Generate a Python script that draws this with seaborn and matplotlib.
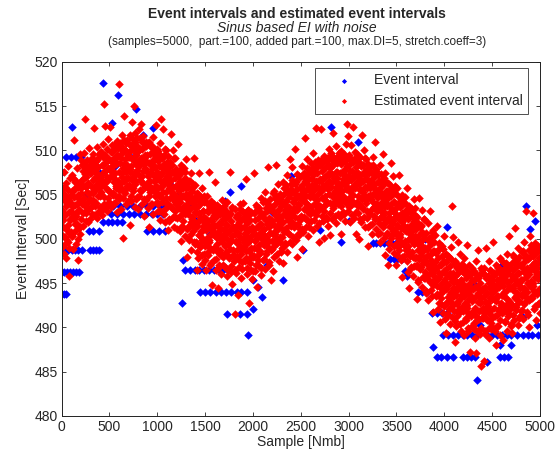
import numpy as np
import pandas as pd
import matplotlib
matplotlib.use('Agg')
import matplotlib.pyplot as plt
import seaborn as sns

# DATA: estimated event interval, read per 100-sample stretch (0..5000).
# two sets of 20 readings for each stretch, interleaved along the sample axis
est_rows_a = [
    [503.2, 499.1, 505.8, 501.4, 507.6, 498.3, 502.7, 504.9, 500.2, 506.3, 497.8, 503.9, 501.0, 508.2, 499.7, 504.4, 495.8, 502.1, 506.9, 500.8],
    [504.1, 500.3, 507.2, 502.6, 498.9, 505.5, 511.2, 501.7, 503.8, 506.4, 499.4, 502.9, 508.0, 504.7, 497.6, 505.9, 501.2, 503.3, 509.6, 500.6],
    [505.2, 502.3, 508.4, 503.9, 506.8, 501.5, 509.7, 504.6, 507.3, 513.6, 502.9, 505.9, 503.1, 508.9, 506.1, 501.9, 504.2, 510.3, 507.7, 503.5],
    [504.5, 508.7, 506.0, 502.8, 507.9, 505.2, 509.6, 504.1, 512.5, 506.9, 503.7, 508.2, 505.6, 510.4, 502.4, 507.5, 504.8, 509.1, 503.0, 506.3],
    [507.0, 503.6, 509.8, 505.3, 508.4, 502.7, 510.7, 506.2, 515.2, 504.0, 507.7, 512.8, 505.7, 509.2, 503.2, 506.6, 508.9, 504.6, 511.3, 506.9],
    [507.9, 512.6, 505.3, 509.8, 503.6, 507.1, 510.6, 505.0, 508.3, 506.4, 507.5, 504.1, 510.2, 505.8, 508.7, 503.0, 511.1, 506.6, 509.4, 504.8],
    [517.5, 504.5, 510.8, 506.2, 509.1, 503.4, 511.7, 507.0, 500.1, 505.4, 508.5, 513.9, 506.7, 510.1, 504.0, 507.6, 511.2, 505.8, 509.5, 506.9],
    [506.1, 509.3, 501.6, 511.8, 507.9, 504.3, 510.6, 506.9, 513.2, 508.9, 505.8, 515.0, 507.4, 512.0, 503.6, 509.7, 506.5, 511.4, 504.7, 508.2],
    [503.4, 512.4, 507.2, 510.2, 505.5, 508.7, 513.0, 506.6, 510.9, 504.0, 507.7, 511.6, 502.6, 509.1, 505.9, 508.0, 504.4, 511.0, 506.3, 509.5],
    [503.5, 507.1, 510.9, 501.4, 508.5, 505.3, 507.4, 503.9, 510.5, 505.7, 508.8, 502.8, 511.5, 506.6, 509.6, 504.9, 508.1, 512.9, 506.0, 510.2],
    [506.8, 503.2, 509.9, 505.0, 508.2, 502.1, 510.8, 505.9, 513.6, 504.2, 507.5, 512.4, 505.3, 509.5, 502.8, 506.4, 510.2, 501.9, 507.9, 504.6],
    [503.9, 507.1, 501.0, 509.4, 505.7, 502.0, 508.7, 504.6, 511.9, 506.7, 503.5, 508.4, 505.1, 510.0, 501.4, 507.4, 504.2, 509.1, 502.5, 506.0],
    [504.0, 507.3, 502.4, 505.6, 510.7, 503.5, 507.6, 500.9, 504.6, 508.3, 499.8, 506.0, 502.8, 504.9, 501.4, 508.0, 503.1, 506.3, 500.3, 509.0],
    [503.1, 506.8, 498.0, 504.5, 501.3, 503.4, 499.9, 506.5, 501.6, 504.8, 498.8, 507.4, 502.5, 505.8, 500.9, 504.1, 509.2, 502.0, 506.1, 499.4],
    [499.7, 502.9, 496.5, 505.2, 501.5, 497.8, 504.5, 500.4, 507.5, 502.5, 499.3, 504.2, 500.9, 505.8, 497.2, 503.2, 500.0, 504.9, 498.3, 501.8],
    [499.2, 502.3, 496.5, 504.9, 500.1, 503.3, 498.5, 501.6, 507.6, 499.6, 503.6, 497.0, 500.6, 504.3, 494.8, 502.0, 498.9, 500.9, 497.6, 504.0],
    [506.4, 499.1, 503.1, 496.5, 500.1, 503.8, 494.5, 501.5, 498.4, 500.4, 497.0, 503.5, 498.7, 501.8, 496.0, 504.4, 499.6, 502.8, 498.0, 501.1],
    [500.2, 496.8, 503.3, 498.5, 501.6, 495.8, 504.2, 499.4, 502.6, 497.8, 500.9, 507.6, 498.9, 502.9, 496.3, 499.9, 503.6, 494.9, 501.3, 498.2],
    [497.9, 501.1, 491.5, 503.4, 499.7, 496.1, 502.7, 498.7, 493.7, 500.7, 497.6, 502.4, 499.2, 504.0, 495.6, 501.4, 498.3, 503.1, 496.6, 500.0],
    [504.1, 499.1, 502.3, 497.5, 500.6, 506.8, 498.6, 502.6, 496.0, 499.6, 503.3, 492.7, 501.0, 497.8, 499.9, 496.5, 503.0, 498.2, 501.3, 495.5],
    [497.9, 501.0, 507.4, 499.0, 503.0, 496.4, 500.0, 503.8, 494.6, 501.4, 498.2, 500.3, 496.9, 503.5, 498.6, 501.7, 495.9, 504.6, 499.5, 502.8],
    [501.0, 497.6, 504.2, 499.3, 502.4, 496.6, 505.3, 500.2, 503.5, 498.6, 501.7, 508.1, 499.7, 503.7, 497.1, 500.7, 504.5, 495.3, 502.1, 498.9],
    [499.8, 503.0, 496.4, 505.4, 501.6, 498.0, 504.6, 500.6, 508.3, 502.6, 499.5, 504.4, 501.1, 506.2, 497.5, 503.3, 500.2, 505.1, 498.5, 501.9],
    [499.0, 502.6, 506.4, 497.3, 504.0, 500.8, 502.9, 499.5, 506.1, 501.2, 504.3, 498.5, 507.2, 502.1, 505.4, 500.5, 503.6, 509.0, 501.6, 505.6],
    [505.2, 499.4, 508.1, 503.0, 506.3, 501.4, 504.5, 510.2, 502.5, 506.5, 499.9, 503.5, 507.3, 497.9, 504.9, 501.7, 503.8, 500.4, 507.0, 502.1],
    [502.6, 505.8, 498.9, 508.2, 504.4, 500.8, 507.4, 503.4, 511.4, 505.4, 502.3, 507.2, 503.9, 509.0, 500.3, 506.1, 503.0, 507.9, 501.3, 504.7],
    [505.4, 502.0, 508.6, 503.7, 506.8, 501.0, 509.7, 504.6, 507.9, 503.0, 506.1, 512.5, 504.1, 508.1, 501.5, 505.1, 508.9, 499.6, 506.5, 503.3],
    [508.4, 503.5, 506.6, 512.4, 504.6, 508.6, 502.0, 505.6, 509.4, 500.1, 507.0, 503.8, 505.9, 502.5, 509.1, 504.2, 507.3, 501.5, 510.2, 505.1],
    [504.1, 507.3, 500.4, 509.7, 505.9, 502.3, 508.9, 504.9, 512.0, 506.9, 503.8, 508.7, 505.4, 510.5, 501.8, 507.6, 504.5, 509.4, 502.8, 506.2],
    [505.1, 509.1, 502.5, 506.1, 509.9, 500.6, 507.5, 504.3, 506.4, 503.0, 509.6, 504.7, 507.8, 502.0, 510.7, 505.6, 513.0, 504.0, 507.1, 511.6],
    [509.5, 504.6, 507.7, 501.9, 510.6, 505.5, 508.8, 503.9, 507.0, 512.6, 505.0, 509.0, 502.4, 506.0, 509.8, 500.5, 507.4, 504.2, 506.3, 502.9],
    [503.7, 506.9, 500.0, 509.3, 505.5, 501.9, 508.5, 504.5, 511.8, 506.5, 503.4, 508.3, 505.0, 510.1, 501.4, 507.2, 504.1, 509.0, 502.4, 505.8],
    [508.5, 499.2, 506.1, 502.9, 505.0, 501.6, 508.2, 503.3, 506.4, 500.6, 509.3, 504.2, 507.5, 502.6, 505.7, 511.0, 503.7, 507.7, 501.1, 504.7],
    [504.0, 500.6, 507.2, 502.3, 505.4, 499.6, 508.3, 503.2, 506.5, 501.6, 504.7, 509.6, 502.7, 506.7, 500.1, 503.7, 507.5, 498.2, 505.1, 501.9],
    [500.7, 503.9, 497.0, 506.3, 502.5, 498.9, 505.5, 501.5, 508.6, 503.5, 500.4, 505.3, 502.0, 507.1, 498.4, 504.2, 501.1, 506.0, 499.4, 502.8],
    [497.1, 505.8, 500.7, 504.0, 499.1, 502.2, 507.2, 500.2, 504.2, 497.6, 501.2, 505.0, 495.7, 502.6, 499.4, 501.5, 498.1, 504.7, 499.8, 502.9],
    [500.9, 505.8, 498.9, 502.9, 496.3, 499.9, 503.7, 494.4, 501.3, 498.1, 500.2, 496.8, 503.4, 498.5, 501.6, 495.8, 504.5, 499.4, 502.7, 497.8],
    [496.9, 500.1, 493.2, 502.5, 498.7, 495.1, 501.7, 497.7, 504.6, 499.7, 496.6, 501.5, 498.2, 503.3, 494.6, 500.4, 497.3, 502.2, 495.6, 499.0],
    [497.5, 494.1, 500.7, 495.8, 498.9, 493.1, 501.8, 496.7, 500.0, 495.1, 498.2, 503.1, 496.2, 500.2, 493.6, 497.2, 501.0, 491.7, 498.6, 495.4],
    [495.2, 498.5, 493.6, 496.7, 501.5, 494.7, 498.7, 492.1, 495.7, 499.5, 490.6, 497.1, 493.9, 496.0, 492.6, 499.2, 494.3, 497.4, 491.6, 500.3],
    [497.5, 490.9, 494.5, 498.3, 489.4, 495.9, 492.7, 494.8, 491.4, 498.0, 493.1, 496.2, 490.4, 499.1, 494.0, 503.7, 492.4, 495.5, 500.2, 493.5],
    [491.9, 495.1, 488.4, 497.5, 493.7, 490.1, 496.7, 492.7, 499.6, 494.7, 491.6, 496.5, 493.2, 498.3, 489.6, 495.4, 492.3, 497.2, 490.6, 494.0],
    [494.9, 489.1, 497.8, 492.7, 496.0, 491.1, 494.2, 499.3, 492.2, 496.2, 489.6, 493.2, 497.0, 487.2, 494.6, 491.4, 493.5, 490.1, 496.7, 491.8],
    [493.2, 489.8, 496.4, 491.5, 494.6, 488.8, 497.5, 487.1, 495.7, 490.8, 493.9, 498.8, 491.9, 495.9, 489.3, 492.9, 496.7, 485.6, 494.3, 491.1],
    [491.1, 494.3, 486.2, 496.7, 492.9, 489.3, 495.9, 491.9, 499.0, 493.9, 490.8, 495.7, 492.4, 497.5, 488.8, 494.6, 491.5, 496.4, 489.8, 493.2],
    [491.1, 494.2, 499.7, 492.2, 496.2, 489.6, 493.2, 497.0, 488.0, 494.6, 491.4, 493.5, 490.1, 496.7, 491.8, 494.9, 489.1, 497.8, 492.7, 496.0],
    [493.7, 497.5, 488.6, 495.1, 491.9, 494.0, 490.6, 497.2, 492.3, 495.4, 489.6, 498.3, 493.2, 496.5, 491.6, 494.7, 500.3, 492.7, 496.7, 490.1],
    [492.6, 495.8, 489.4, 498.2, 494.4, 490.8, 497.4, 493.4, 501.2, 495.4, 492.3, 497.2, 493.9, 499.0, 490.3, 496.1, 493.0, 497.9, 491.3, 494.7],
    [495.3, 491.9, 498.5, 493.6, 496.7, 490.9, 499.6, 494.5, 497.8, 492.9, 496.0, 503.1, 494.0, 498.0, 491.4, 495.0, 498.8, 490.0, 496.4, 493.2],
    [500.3, 495.2, 498.5, 493.6, 496.7, 502.9, 494.7, 498.7, 492.1, 495.7, 499.5, 490.8, 497.1, 493.9, 496.0, 492.6, 499.2, 494.3, 497.4, 491.6],
]

est_rows_b = [
    [503.3, 500.4, 505.2, 502.1, 504.4, 499.3, 502.7, 505.9, 501.2, 503.7, 499.9, 504.7, 501.6, 505.5, 500.7, 503.0, 499.0, 504.0, 502.3, 505.0],
    [503.1, 505.4, 500.3, 503.7, 506.9, 502.2, 504.7, 500.9, 505.7, 502.6, 506.5, 501.7, 504.0, 500.0, 505.0, 503.3, 506.0, 504.3, 501.4, 506.2],
    [505.7, 508.9, 504.2, 506.7, 502.9, 507.7, 504.6, 508.5, 503.7, 506.0, 502.0, 507.0, 505.3, 508.0, 506.3, 503.4, 508.2, 505.1, 507.4, 502.3],
    [507.4, 503.6, 508.4, 505.3, 509.2, 504.4, 506.7, 502.7, 507.7, 506.0, 508.7, 507.0, 504.1, 508.9, 505.8, 508.1, 503.0, 506.4, 509.6, 504.9],
    [505.9, 509.8, 505.0, 507.3, 503.3, 508.3, 506.6, 509.3, 507.6, 504.7, 509.5, 506.4, 508.7, 503.6, 507.0, 510.2, 505.5, 508.0, 504.2, 509.0],
    [507.8, 503.8, 508.8, 507.1, 509.8, 508.1, 505.2, 510.0, 506.9, 509.2, 504.1, 507.5, 510.7, 506.0, 508.5, 504.7, 509.5, 506.4, 510.3, 505.5],
    [507.6, 510.3, 508.6, 505.7, 510.5, 507.4, 509.7, 504.6, 508.0, 511.2, 506.5, 509.0, 505.2, 510.0, 506.9, 510.8, 506.0, 508.3, 504.3, 509.3],
    [505.9, 510.7, 507.6, 509.9, 504.8, 508.2, 511.4, 506.7, 509.2, 505.4, 510.2, 507.1, 511.0, 506.2, 508.5, 504.5, 509.5, 507.8, 510.5, 508.8],
    [509.9, 504.8, 508.2, 511.4, 506.7, 509.2, 505.4, 510.2, 507.1, 511.0, 506.2, 508.5, 504.5, 509.5, 507.8, 510.5, 508.8, 505.9, 510.7, 507.6],
    [510.8, 506.1, 508.6, 504.8, 509.6, 506.5, 510.4, 505.6, 507.9, 503.9, 508.9, 507.2, 509.9, 508.2, 505.3, 510.1, 507.0, 509.3, 504.2, 507.6],
    [504.0, 508.8, 505.7, 509.6, 504.8, 507.1, 503.1, 508.1, 506.4, 509.1, 507.4, 504.5, 509.3, 506.2, 508.5, 503.4, 506.8, 510.0, 505.3, 507.8],
    [508.7, 503.9, 506.2, 502.2, 507.2, 505.5, 508.2, 506.5, 503.6, 508.4, 505.3, 507.6, 502.5, 505.9, 509.1, 504.4, 506.9, 503.1, 507.9, 504.8],
    [501.1, 506.1, 504.4, 507.1, 505.4, 502.5, 507.3, 504.2, 506.5, 501.4, 504.8, 508.0, 503.3, 505.8, 502.0, 506.8, 503.7, 507.6, 502.8, 505.1],
    [505.7, 504.0, 501.1, 505.9, 502.8, 505.1, 500.0, 503.4, 506.6, 501.9, 504.4, 500.6, 505.4, 502.3, 506.2, 501.4, 503.7, 499.7, 504.7, 503.0],
    [504.4, 501.3, 503.6, 498.5, 501.9, 505.1, 500.4, 502.9, 499.1, 503.9, 500.8, 504.7, 499.9, 502.2, 498.2, 503.2, 501.5, 504.2, 502.5, 499.6],
    [497.6, 501.0, 504.2, 499.5, 502.0, 498.2, 503.0, 499.9, 503.8, 499.0, 501.3, 497.3, 502.3, 500.6, 503.3, 501.6, 498.7, 503.5, 500.4, 502.7],
    [499.0, 501.5, 497.7, 502.5, 499.4, 503.3, 498.5, 500.8, 496.8, 501.8, 500.1, 502.8, 501.1, 498.2, 503.0, 499.9, 502.2, 497.1, 500.5, 503.7],
    [502.3, 499.2, 503.1, 498.3, 500.6, 496.6, 501.6, 499.9, 502.6, 500.9, 498.0, 502.8, 499.7, 502.0, 496.9, 500.3, 503.5, 498.8, 501.3, 497.5],
    [498.2, 500.5, 496.5, 501.5, 499.8, 502.5, 500.8, 497.9, 502.7, 499.6, 501.9, 496.8, 500.2, 503.4, 498.7, 501.2, 497.4, 502.2, 499.1, 503.0],
    [501.4, 499.7, 502.4, 500.7, 497.8, 502.6, 499.5, 501.8, 496.7, 500.1, 503.3, 498.6, 501.1, 497.3, 502.1, 499.0, 502.9, 498.1, 500.4, 496.4],
    [501.0, 498.1, 502.9, 499.8, 502.1, 497.0, 500.4, 503.6, 498.9, 501.4, 497.6, 502.4, 499.3, 503.2, 498.4, 500.7, 496.7, 501.7, 500.0, 502.7],
    [500.5, 502.8, 497.7, 501.1, 504.3, 499.6, 502.1, 498.3, 503.1, 500.0, 503.9, 499.1, 501.4, 497.4, 502.4, 500.7, 503.4, 501.7, 498.8, 503.6],
    [502.0, 505.2, 500.5, 503.0, 499.2, 504.0, 500.9, 504.8, 500.0, 502.3, 498.3, 503.3, 501.6, 504.3, 502.6, 499.7, 504.5, 501.4, 503.7, 498.6],
    [504.0, 500.2, 505.0, 501.9, 505.8, 501.0, 503.3, 499.3, 504.3, 502.6, 505.3, 503.6, 500.7, 505.5, 502.4, 504.7, 499.6, 503.0, 506.2, 501.5],
    [502.8, 506.7, 501.9, 504.2, 500.2, 505.2, 503.5, 506.2, 504.5, 501.6, 506.4, 503.3, 505.6, 500.5, 503.9, 507.1, 502.4, 504.9, 501.1, 505.9],
    [505.1, 501.1, 506.1, 504.4, 507.1, 505.4, 502.5, 507.3, 504.2, 506.5, 501.4, 504.8, 508.0, 503.3, 505.8, 502.0, 506.8, 503.7, 507.6, 502.8],
    [505.1, 507.8, 506.1, 503.2, 508.0, 504.9, 507.2, 502.1, 505.5, 508.7, 504.0, 506.5, 502.7, 507.5, 504.4, 508.3, 503.5, 505.8, 501.8, 506.8],
    [503.7, 508.5, 505.4, 507.7, 502.6, 506.0, 509.2, 504.5, 507.0, 503.2, 508.0, 504.9, 508.8, 504.0, 506.3, 502.3, 507.3, 505.6, 508.3, 506.6],
    [508.0, 502.9, 506.3, 509.5, 504.8, 507.3, 503.5, 508.3, 505.2, 509.1, 504.3, 506.6, 502.6, 507.6, 505.9, 508.6, 506.9, 504.0, 508.8, 505.7],
    [509.7, 505.0, 507.5, 503.7, 508.5, 505.4, 509.3, 504.5, 506.8, 502.8, 507.8, 506.1, 508.8, 507.1, 504.2, 509.0, 505.9, 508.2, 503.1, 506.5],
    [503.6, 508.4, 505.3, 509.2, 504.4, 506.7, 502.7, 507.7, 506.0, 508.7, 507.0, 504.1, 508.9, 505.8, 508.1, 503.0, 506.4, 509.6, 504.9, 507.4],
    [508.7, 503.9, 506.2, 502.2, 507.2, 505.5, 508.2, 506.5, 503.6, 508.4, 505.3, 507.6, 502.5, 505.9, 509.1, 504.4, 506.9, 503.1, 507.9, 504.8],
    [501.4, 506.4, 504.7, 507.4, 505.7, 502.8, 507.6, 504.5, 506.8, 501.7, 505.1, 508.3, 503.6, 506.1, 502.3, 507.1, 504.0, 507.9, 503.1, 505.4],
    [506.4, 504.7, 501.8, 506.6, 503.5, 505.8, 500.7, 504.1, 507.3, 502.6, 505.1, 501.3, 506.1, 503.0, 506.9, 502.1, 504.4, 500.4, 505.4, 503.7],
    [505.4, 502.3, 504.6, 499.5, 502.9, 506.1, 501.4, 503.9, 500.1, 504.9, 501.8, 505.7, 500.9, 503.2, 499.2, 504.2, 502.5, 505.2, 503.5, 500.6],
    [498.2, 501.6, 504.8, 500.1, 502.6, 498.8, 503.6, 500.5, 504.4, 499.6, 501.9, 497.9, 502.9, 501.2, 503.9, 502.2, 499.3, 504.1, 501.0, 503.3],
    [498.8, 501.3, 497.5, 502.3, 499.2, 503.1, 498.3, 500.6, 496.6, 501.6, 499.9, 502.6, 500.9, 498.0, 502.8, 499.7, 502.0, 496.9, 500.3, 503.5],
    [501.1, 498.0, 501.9, 497.1, 499.4, 495.4, 500.4, 498.7, 501.4, 499.7, 496.8, 501.6, 498.5, 500.8, 495.7, 499.1, 502.3, 497.6, 500.1, 496.3],
    [495.6, 497.9, 493.9, 498.9, 497.2, 499.9, 498.2, 495.3, 500.1, 497.0, 499.3, 494.2, 497.6, 500.8, 496.1, 498.6, 494.8, 499.6, 496.5, 500.4],
    [497.4, 495.7, 498.4, 496.7, 493.8, 498.6, 495.5, 497.8, 492.7, 496.1, 499.3, 494.6, 497.1, 493.3, 498.1, 495.0, 498.9, 494.1, 496.4, 492.4],
    [495.5, 492.6, 497.4, 494.3, 496.6, 491.5, 494.9, 498.1, 493.4, 495.9, 492.1, 496.9, 493.8, 497.7, 492.9, 495.2, 491.2, 496.2, 494.5, 497.2],
    [493.5, 495.8, 490.7, 494.1, 497.3, 492.6, 495.1, 491.3, 496.1, 493.0, 496.9, 492.1, 494.4, 490.4, 495.4, 493.7, 496.4, 494.7, 491.8, 496.6],
    [493.6, 496.8, 492.1, 494.6, 490.8, 495.6, 492.5, 496.4, 491.6, 493.9, 489.9, 494.9, 493.2, 495.9, 494.2, 491.3, 496.1, 493.0, 495.3, 490.2],
    [494.3, 490.5, 495.3, 492.2, 496.1, 491.3, 493.6, 489.6, 494.6, 492.9, 495.6, 493.9, 491.0, 495.8, 492.7, 495.0, 489.9, 493.3, 496.5, 491.8],
    [492.2, 496.1, 491.3, 493.6, 489.6, 494.6, 492.9, 495.6, 493.9, 491.0, 495.8, 492.7, 495.0, 489.9, 493.3, 496.5, 491.8, 494.3, 490.5, 495.3],
    [493.9, 489.9, 494.9, 493.2, 495.9, 494.2, 491.3, 496.1, 493.0, 495.3, 490.2, 493.6, 496.8, 492.1, 494.6, 490.8, 495.6, 492.5, 496.4, 491.6],
    [493.7, 496.4, 494.7, 491.8, 496.6, 493.5, 495.8, 490.7, 494.1, 497.3, 492.6, 495.1, 491.3, 496.1, 493.0, 496.9, 492.1, 494.4, 490.4, 495.4],
    [492.5, 497.3, 494.2, 496.5, 491.4, 494.8, 498.0, 493.3, 495.8, 492.0, 496.8, 493.7, 497.6, 492.8, 495.1, 491.1, 496.1, 494.4, 497.1, 495.4],
    [497.1, 492.0, 495.4, 498.6, 493.9, 496.4, 492.6, 497.4, 494.3, 498.2, 493.4, 495.7, 491.7, 496.7, 495.0, 497.7, 496.0, 493.1, 497.9, 494.8],
    [499.3, 494.6, 497.1, 493.3, 498.1, 495.0, 498.9, 494.1, 496.4, 492.4, 497.4, 495.7, 498.4, 496.7, 493.8, 498.6, 495.5, 497.8, 492.7, 496.1],
]

# DATA: event interval (blue) -- mostly the points that show outside the red cloud
ev_sample = [
    0, 25, 50,
    0, 30, 60, 90, 120, 150, 180,
    0, 35, 70, 105, 140, 175, 210, 300, 330, 360, 390,
    290, 330, 390,
    430, 480, 530, 580, 630,
    520, 580, 640, 700, 760, 820, 880, 940, 1000, 1060,
    470, 540, 610, 680, 750, 820, 890, 960, 1030, 1090,
    890, 950, 1020, 1080,
    5, 50, 100, 150, 200, 105, 430, 590, 530, 780, 560, 250, 400, 700, 850, 950, 1150, 1230,
    1265, 1262,
    1290, 1340, 1390, 1440, 1490, 1540, 1590, 1640, 1690, 1740,
    1445, 1500, 1555, 1610, 1665, 1720, 1775, 1830, 1880, 1935,
    1725, 1860, 1935, 1945,
    1690, 1705, 1757, 1880, 1400, 1550, 1350,
    2000, 2050, 2090, 2000, 2310, 2150, 2250, 2400, 2200,
    2520, 2820, 2925, 3100, 2700, 3000,
    3250, 3290, 3330, 3370, 3410, 3450, 3500, 3540,
    3430, 3470, 3510, 3555, 3590, 3610,
    3725, 3770, 3820,
    3870, 3920, 3975, 4030,
    3990, 4040, 4090, 4140, 4190, 4240, 4290, 4340,
    4450, 4500, 4550, 4600, 4650, 4700, 4760, 4820, 4870, 4920, 4980,
    3880, 3920, 3970, 4030, 4090, 4195, 4240, 4280, 4320, 4580, 4620, 4665,
    4445, 4340, 4027, 4370, 4970, 4790, 4820, 4580, 4700,
    4850, 4950, 4900, 4600, 4300, 3800,
]
ev_interval = [
    493.8, 493.8, 493.8,
    496.3, 496.3, 496.3, 496.3, 496.3, 496.3, 496.3,
    498.8, 498.8, 498.8, 498.8, 498.8, 498.8, 498.8, 498.8, 498.8, 498.8, 498.8,
    500.9, 500.9, 500.9,
    501.9, 501.9, 501.9, 501.9, 501.9,
    502.8, 502.8, 502.8, 502.8, 502.8, 502.8, 502.8, 502.8, 502.8, 502.8,
    503.7, 503.7, 503.7, 503.7, 503.7, 503.7, 503.7, 503.7, 503.7, 503.7,
    500.9, 500.9, 500.9, 500.9,
    507.6, 509.3, 509.3, 509.3, 509.3, 512.6, 517.6, 516.3, 513.1, 514.7, 508.2, 505.0, 507.5, 509.5, 511.8, 512.5, 506.0, 505.1,
    497.6, 492.8,
    496.5, 496.5, 496.5, 496.5, 496.5, 496.5, 496.5, 496.5, 496.5, 496.5,
    494.0, 494.0, 494.0, 494.0, 494.0, 494.0, 494.0, 494.0, 494.0, 494.0,
    491.5, 491.5, 491.5, 489.1,
    503.5, 504.3, 505.3, 506.0, 502.0, 500.5, 504.0,
    495.3, 494.6, 493.4, 492.1, 495.3, 497.0, 500.0, 507.1, 503.0,
    498.7, 512.7, 499.6, 510.9, 501.0, 502.0,
    499.5, 499.5, 499.5, 499.5, 499.5, 499.5, 499.5, 499.5,
    497.7, 497.7, 497.7, 497.7, 496.4, 495.8,
    494.0, 494.0, 494.0,
    491.6, 491.6, 491.6, 491.6,
    489.1, 489.1, 489.1, 489.1, 489.1, 489.1, 489.1, 489.1,
    489.1, 489.1, 489.1, 489.1, 489.1, 489.1, 489.1, 489.1, 489.1, 489.1, 489.1,
    487.8, 486.6, 486.6, 486.6, 486.6, 486.6, 486.6, 486.6, 486.6, 486.6, 486.6, 486.6,
    486.1, 484.1, 501.3, 490.3, 490.3, 491.2, 491.2, 488.0, 488.0,
    503.7, 502.0, 501.1, 497.0, 495.0, 500.0,
]

# interleave the two reading sets of each stretch, samples run 0..5000
est_values = []
for ra, rb in zip(est_rows_a, est_rows_b):
    for a, b in zip(ra, rb):
        est_values += [a, b]
est_sample = np.arange(len(est_values)) * 5000 / len(est_values)

df_est = pd.DataFrame({'Sample': est_sample, 'Interval': est_values})
df_ev = pd.DataFrame({'Sample': ev_sample, 'Interval': ev_interval})

sns.set_style('white')
plt.rcParams['font.family'] = ['Liberation Sans', 'DejaVu Sans']

fig = plt.figure(figsize=(5.55, 4.59), dpi=100)
ax = fig.add_axes([0.111, 0.094, 0.862, 0.771])

sns.scatterplot(data=df_ev, x='Sample', y='Interval', ax=ax, color='#0000ff',
                marker='D', s=19, linewidth=0, label='Event interval')
sns.scatterplot(data=df_est, x='Sample', y='Interval', ax=ax, color='#ff0000',
                marker='D', s=19, linewidth=0, label='Estimated event interval')

ax.set_xlim(0, 5000)
ax.set_ylim(480, 520)
ax.set_xticks(np.arange(0, 5001, 500))
ax.set_yticks(np.arange(480, 521, 5))
ax.tick_params(direction='in', length=3, width=0.6, labelsize=10,
               top=True, right=True, bottom=True, left=True, pad=3)
for sp in ax.spines.values():
    sp.set_color('#222222')
    sp.set_linewidth(0.7)

ax.set_xlabel('Sample [Nmb]', fontsize=10, labelpad=1)
ax.set_ylabel('Event Interval [Sec]', fontsize=10, labelpad=3)

leg = ax.legend(loc='upper right', fontsize=10, frameon=True, fancybox=False,
                markerscale=0.6, borderpad=0.4, handlelength=3.4,
                handletextpad=0.45, labelspacing=0.5, borderaxespad=0,
                bbox_to_anchor=(0.975, 0.984))
leg.get_frame().set_edgecolor('#222222')
leg.get_frame().set_linewidth(0.7)

cx = 0.535
fig.text(cx, 0.961, 'Event intervals and estimated event intervals',
         ha='center', va='baseline', fontsize=10, fontweight='bold')
fig.text(cx, 0.931, 'Sinus based EI with noise', ha='center', va='baseline',
         fontsize=10, style='italic')
fig.text(cx, 0.902, '(samples=5000,  part.=100, added part.=100, max.DI=5, stretch.coeff=3)',
         ha='center', va='baseline', fontsize=8.5)

fig.savefig('out.png', dpi=100)
